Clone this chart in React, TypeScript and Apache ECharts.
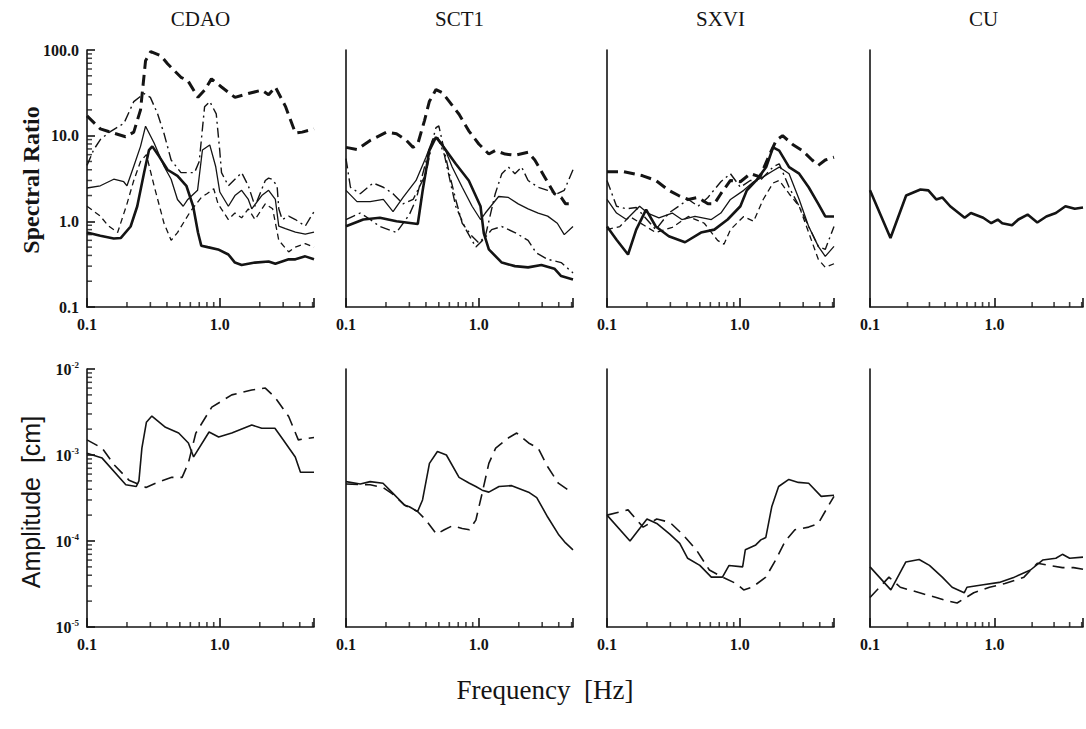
import React, { useEffect, useRef } from "react";
import * as echarts from "echarts";

// ---------- categories / labels ----------
const stations = ["CDAO", "SCT1", "SXVI", "CU"];
const topYLabel = "Spectral Ratio";
const bottomYLabel = "Amplitude  [cm]";
const xLabel = "Frequency  [Hz]";
const xMinorTicks = [0.2, 0.3, 0.4, 0.5, 0.6, 0.7, 0.8, 0.9, 2, 3, 4, 5];
const minorMultipliers = [2, 3, 4, 5, 6, 7, 8, 9];
const topDecades = [0.1, 1, 10];
const bottomDecades = [1e-5, 1e-4, 1e-3];

// ---------- spectral ratios (top row) ----------
const cdaoHeavyDash = [[0.1,17],[0.126,12],[0.159,10.7],[0.195,9.7],[0.225,11],[0.253,20],[0.276,75],[0.302,96],[0.359,86],[0.404,69],[0.51,48],[0.574,44],[0.685,28],[0.768,34],[0.865,46],[1.03,37],[1.3,28],[1.64,31],[2.07,34],[2.33,30],[2.62,37],[3.12,22],[3.71,10.7],[4.17,11],[5.12,12]];
const cdaoThin = [[0.1,2.45],[0.126,2.6],[0.159,3.1],[0.189,2.9],[0.2,2.6],[0.225,4.4],[0.253,7.5],[0.276,12.9],[0.32,8.2],[0.38,4.4],[0.43,3.1],[0.48,1.8],[0.53,1.5],[0.574,1.8],[0.68,2.3],[0.74,6.8],[0.84,7.8],[0.93,4.4],[1.0,2.2],[1.16,1.5],[1.3,2],[1.46,2.3],[1.64,1.8],[1.74,1.4],[2.07,2],[2.33,2.3],[2.62,1.8],[2.78,0.88],[3.12,0.82],[3.71,0.75],[4.4,0.71],[5.12,0.75]];
const cdaoThick = [[0.1,0.74],[0.126,0.68],[0.159,0.63],[0.18,0.64],[0.213,0.87],[0.239,1.5],[0.269,3.7],[0.293,6.8],[0.31,7.5],[0.35,5.7],[0.404,4],[0.48,3.4],[0.56,2.6],[0.63,1.5],[0.685,0.74],[0.725,0.52],[0.81,0.5],[0.97,0.47],[1.16,0.41],[1.3,0.33],[1.46,0.31],[1.84,0.33],[2.33,0.34],[2.62,0.32],[3.3,0.36],[3.71,0.36],[4.4,0.39],[5.12,0.36]];
const cdaoDashDot = [[0.1,4.5],[0.112,6.8],[0.126,9],[0.144,10.7],[0.19,14],[0.225,25],[0.269,31],[0.3,28],[0.34,18],[0.38,10.6],[0.43,5.2],[0.51,3.7],[0.645,3.7],[0.7,5],[0.768,21.7],[0.84,25],[0.94,18],[0.998,6.8],[1.03,3.7],[1.16,2.6],[1.3,3.1],[1.46,3.7],[1.64,2.6],[1.84,1.5],[2.2,3],[2.33,3.2],[2.47,3.1],[2.7,2.6],[2.78,1.4],[2.95,1.05],[3.3,1.15],[3.71,1.05],[4.4,0.88],[5.12,1.3]];
const cdaoDashed = [[0.1,1.5],[0.126,1.15],[0.144,0.89],[0.17,0.74],[0.2,1.6],[0.225,3],[0.253,5],[0.28,6],[0.32,2.6],[0.38,0.95],[0.43,0.6],[0.48,0.74],[0.53,0.95],[0.6,1.3],[0.725,1.9],[0.8,2.1],[0.9,2.4],[0.97,1.6],[1.16,1.05],[1.3,1.25],[1.46,1.1],[1.64,1.4],[1.84,1.05],[2.2,1.6],[2.5,1.4],[2.78,0.6],[3.3,0.44],[3.71,0.5],[4.4,0.55],[5.12,0.5]];

const sct1HeavyDash = [[0.1,7.3],[0.121,6.9],[0.152,8.8],[0.202,11],[0.24,10.5],[0.285,8.8],[0.32,7.3],[0.347,8],[0.39,15],[0.424,25],[0.476,34.5],[0.533,31.6],[0.6,25],[0.71,17.8],[0.84,11.4],[1.0,8],[1.19,6.1],[1.33,6.7],[1.58,6.1],[1.87,5.9],[2.35,6.4],[2.64,5.2],[3.13,3.3],[3.71,2.1],[4.17,1.9],[4.5,1.6],[5.12,1.6]];
const sct1Thin = [[0.1,2.3],[0.121,1.7],[0.152,1.7],[0.191,1.8],[0.226,1.3],[0.269,1.9],[0.337,3],[0.4,5.6],[0.45,9.1],[0.49,9.5],[0.55,7.3],[0.63,4.3],[0.75,2.5],[0.89,1.5],[1.03,1.05],[1.12,1.25],[1.41,1.95],[1.67,1.9],[1.98,1.6],[2.35,1.4],[2.8,1.25],[3.3,1.15],[3.9,0.95],[4.4,0.7],[5.12,0.87]];
const sct1Thick = [[0.1,0.875],[0.135,1.05],[0.18,1.1],[0.24,1.0],[0.347,0.93],[0.378,2.3],[0.424,6.7],[0.476,9.6],[0.533,7.7],[0.67,4.7],[0.84,3],[1.03,1.5],[1.09,0.73],[1.19,0.47],[1.49,0.33],[1.87,0.3],[2.35,0.29],[2.96,0.31],[3.71,0.28],[4.17,0.23],[5.12,0.21]];
const sct1DashDot = [[0.1,5.4],[0.108,2.5],[0.128,2.1],[0.16,2.8],[0.191,2.5],[0.226,2.1],[0.269,1.6],[0.32,1.8],[0.4,3.6],[0.45,9],[0.476,12.4],[0.5,13],[0.55,6.7],[0.6,3.6],[0.67,1.8],[0.75,0.95],[0.89,0.67],[1.0,0.56],[1.12,0.67],[1.33,2.1],[1.49,3.6],[1.67,4.3],[1.87,3.6],[2.1,4.3],[2.35,3.0],[2.8,2.5],[3.3,2.3],[3.9,2.1],[4.4,2.3],[5.12,4]];
const sct1Dashed = [[0.1,1.05],[0.128,1.25],[0.152,1.05],[0.18,0.87],[0.24,0.74],[0.3,1.2],[0.337,1.8],[0.4,5],[0.45,9],[0.49,9.5],[0.55,6],[0.67,1.5],[0.8,0.8],[0.95,0.5],[1.07,0.6],[1.25,0.8],[1.49,0.87],[1.87,0.74],[2.35,0.6],[2.7,0.43],[3.3,0.36],[4.17,0.33],[5.12,0.25]];

const sxviHeavyDash = [[0.1,3.8],[0.133,3.8],[0.186,3.4],[0.233,3.0],[0.292,2.3],[0.346,2.0],[0.41,1.8],[0.485,1.9],[0.575,1.6],[0.643,1.6],[0.72,2.1],[0.85,3.0],[1.01,2.9],[1.2,3.6],[1.42,3.3],[1.68,6.1],[1.88,8.8],[2.1,10],[2.5,7.9],[2.96,6.7],[3.5,5.2],[3.9,4.5],[4.4,5.2],[5.12,5.6]];
const sxviThin = [[0.1,1.8],[0.118,1.25],[0.14,1.05],[0.176,1.5],[0.202,1.25],[0.246,1.1],[0.31,1.25],[0.366,1.05],[0.46,1.14],[0.61,1.05],[0.72,1.25],[0.85,1.8],[1.07,2.3],[1.27,2.9],[1.5,3.3],[1.78,3.9],[1.98,4.3],[2.35,3.6],[2.8,1.8],[3.3,0.87],[3.9,0.51],[4.4,0.39],[5.12,0.51]];
const sxviThick = [[0.1,0.87],[0.118,0.61],[0.144,0.41],[0.166,0.8],[0.197,1.37],[0.233,0.87],[0.292,0.67],[0.387,0.57],[0.51,0.74],[0.643,0.8],[0.81,1.05],[1.01,1.5],[1.13,2.3],[1.33,3.0],[1.58,4.3],[1.78,7.3],[1.98,6.7],[2.35,4.3],[2.8,3.6],[3.3,2.5],[3.9,1.6],[4.4,1.14],[5.12,1.14]];
const sxviDashDot = [[0.1,3.0],[0.118,1.5],[0.14,1.4],[0.166,1.45],[0.233,0.8],[0.292,1.25],[0.41,1.8],[0.485,1.5],[0.575,1.9],[0.72,2.9],[0.85,3.6],[1.01,2.5],[1.2,3.0],[1.42,3.0],[1.78,4.3],[1.98,4.7],[2.35,2.5],[2.8,1.5],[3.3,0.87],[3.9,0.51],[4.4,0.47],[5.12,0.87]];
const sxviDashed = [[0.1,0.8],[0.125,0.87],[0.148,1.14],[0.19,0.9],[0.233,0.74],[0.31,0.85],[0.41,1.14],[0.54,0.95],[0.68,0.6],[0.76,0.54],[0.85,0.8],[1.07,1.14],[1.27,1.0],[1.5,1.8],[1.78,2.8],[1.98,3.0],[2.35,2.1],[2.8,1.5],[3.3,0.74],[3.9,0.36],[4.4,0.29],[5.12,0.32]];

const cuRatio = [[0.1,2.3],[0.146,0.64],[0.195,2.0],[0.254,2.35],[0.294,2.3],[0.34,1.8],[0.38,1.9],[0.44,1.5],[0.575,1.1],[0.645,1.25],[0.81,1.1],[0.94,0.95],[1.06,1.05],[1.15,0.95],[1.38,0.9],[1.55,1.05],[1.84,1.2],[2.2,0.97],[2.6,1.14],[3.1,1.25],[3.7,1.5],[4.4,1.4],[5.12,1.45]];

// ---------- amplitudes [cm] (bottom row) ----------
const cdaoAmpSolid = [[0.1,1.05e-3],[0.13,9.2e-4],[0.196,4.5e-4],[0.235,4.3e-4],[0.246,5e-4],[0.259,1.2e-3],[0.28,2.4e-3],[0.308,2.84e-3],[0.39,2.1e-3],[0.49,1.8e-3],[0.58,1.38e-3],[0.635,9.5e-4],[0.83,1.85e-3],[0.98,1.62e-3],[1.23,1.8e-3],[1.74,2.23e-3],[2.07,2.05e-3],[2.6,2.05e-3],[2.9,1.62e-3],[3.7,9.5e-4],[4.05,6.3e-4],[5.12,6.3e-4]];
const cdaoAmpDashed = [[0.1,1.5e-3],[0.13,1.2e-3],[0.16,7.7e-4],[0.207,5.1e-4],[0.278,4.2e-4],[0.35,4.9e-4],[0.435,5.5e-4],[0.52,5.5e-4],[0.58,8.1e-4],[0.66,1.8e-3],[0.87,3.6e-3],[1.23,5e-3],[1.74,5.7e-3],[2.2,6e-3],[2.6,4.7e-3],[3.3,2.8e-3],[3.9,1.5e-3],[5.12,1.6e-3]];
const sct1AmpSolid = [[0.1,4.9e-4],[0.128,4.6e-4],[0.152,4.9e-4],[0.19,4.7e-4],[0.225,3.6e-4],[0.277,2.6e-4],[0.3,2.5e-4],[0.346,2.2e-4],[0.377,3.0e-4],[0.425,8e-4],[0.488,1.1e-3],[0.57,1.0e-3],[0.71,5.5e-4],[0.85,4.7e-4],[0.95,4.3e-4],[1.06,3.9e-4],[1.19,3.7e-4],[1.42,4.3e-4],[1.77,4.4e-4],[2.37,3.7e-4],[2.73,3.2e-4],[3.3,1.9e-4],[3.97,1.2e-4],[4.5,9.5e-5],[5.12,7.9e-5]];
const sct1AmpDashed = [[0.1,4.6e-4],[0.152,4.5e-4],[0.19,4.2e-4],[0.225,3.5e-4],[0.277,2.6e-4],[0.346,2.2e-4],[0.4,1.75e-4],[0.48,1.2e-4],[0.55,1.35e-4],[0.63,1.5e-4],[0.75,1.4e-4],[0.85,1.35e-4],[0.95,1.75e-4],[1.06,3.6e-4],[1.19,8e-4],[1.34,1.2e-3],[1.69,1.6e-3],[1.93,1.8e-3],[2.37,1.38e-3],[2.8,1.2e-3],[3.3,7.3e-4],[3.97,4.7e-4],[5.12,3.6e-4]];
const sxviAmpSolid = [[0.1,2.0e-4],[0.149,1.0e-4],[0.2,1.8e-4],[0.237,1.6e-4],[0.297,1.2e-4],[0.353,9.4e-5],[0.405,6.3e-5],[0.5,5.2e-5],[0.61,3.8e-5],[0.74,3.8e-5],[0.83,5.2e-5],[1.05,5e-5],[1.1,7.9e-5],[1.32,9e-5],[1.44,1.03e-4],[1.57,1.1e-4],[1.74,2.5e-4],[1.96,4.3e-4],[2.34,5.2e-4],[2.76,4.8e-4],[3.3,4.7e-4],[4.1,3.3e-4],[5.12,3.4e-4]];
const sxviAmpDashed = [[0.1,2.0e-4],[0.144,2.3e-4],[0.187,1.45e-4],[0.237,1.8e-4],[0.297,1.65e-4],[0.37,1.2e-4],[0.47,7.9e-5],[0.59,4.6e-5],[0.74,3.8e-5],[0.94,3.2e-5],[1.07,2.7e-5],[1.24,2.9e-5],[1.57,3.8e-5],[1.86,6e-5],[2.2,1.0e-4],[2.6,1.35e-4],[3.3,1.45e-4],[3.9,1.6e-4],[4.6,2.5e-4],[5.12,3.3e-4]];
const cuAmpSolid = [[0.1,5.0e-5],[0.147,2.7e-5],[0.194,5.7e-5],[0.248,6.1e-5],[0.3,5.2e-5],[0.38,3.8e-5],[0.456,2.9e-5],[0.57,2.5e-5],[0.6,2.9e-5],[0.81,3.1e-5],[1.09,3.3e-5],[1.44,3.8e-5],[1.94,4.6e-5],[2.43,6e-5],[3.1,6.3e-5],[3.5,7e-5],[4.0,6.3e-5],[5.12,6.5e-5]];
const cuAmpDashed = [[0.1,2.2e-5],[0.142,3.8e-5],[0.175,2.9e-5],[0.25,2.5e-5],[0.34,2.2e-5],[0.425,2.0e-5],[0.5,1.9e-5],[0.68,2.5e-5],[0.91,2.9e-5],[1.21,3.2e-5],[1.72,3.8e-5],[2.2,5.5e-5],[2.75,5.2e-5],[3.5,4.9e-5],[4.3,4.9e-5],[5.12,4.7e-5]];

// ---------- layout & styles ----------
const INK = "#141414";
const colLeft = [87, 346, 607, 870];
const colWidth = 227;
const rowTop = [50, 369];
const rowHeight = [257, 258];
const xMin = 0.1;
const xMax = 5.12;
const yRange = [[0.1, 100], [1e-5, 1e-2]];

const styles: Record<string, any> = {
  heavyDash: { width: 3, type: [11, 6] },
  thin: { width: 1.3, type: "solid" },
  thick: { width: 2.6, type: "solid" },
  dashDot: { width: 1.4, type: [10, 4, 2, 4] },
  dashed: { width: 1.3, type: [6, 4] },
  ampSolid: { width: 1.6, type: "solid" },
  ampDashed: { width: 1.6, type: [12, 7] },
};

const topPanels: [string, number[][]][][] = [
  [["heavyDash", cdaoHeavyDash], ["thin", cdaoThin], ["thick", cdaoThick], ["dashDot", cdaoDashDot], ["dashed", cdaoDashed]],
  [["heavyDash", sct1HeavyDash], ["thin", sct1Thin], ["thick", sct1Thick], ["dashDot", sct1DashDot], ["dashDot", sct1Dashed]],
  [["heavyDash", sxviHeavyDash], ["thin", sxviThin], ["thick", sxviThick], ["dashDot", sxviDashDot], ["dashed", sxviDashed]],
  [["thick", cuRatio]],
];
const bottomPanels: [string, number[][]][][] = [
  [["ampSolid", cdaoAmpSolid], ["ampDashed", cdaoAmpDashed]],
  [["ampSolid", sct1AmpSolid], ["ampDashed", sct1AmpDashed]],
  [["ampSolid", sxviAmpSolid], ["ampDashed", sxviAmpDashed]],
  [["ampSolid", cuAmpSolid], ["ampDashed", cuAmpDashed]],
];

const SERIF = "'Liberation Serif', 'DejaVu Serif', serif";
const SANS = "'Liberation Sans', 'DejaVu Sans', sans-serif";

function decadeOf(v: number): number | null {
  const l = Math.log10(v);
  const r = Math.round(l);
  return Math.abs(l - r) < 0.01 ? r : null;
}

function buildOption() {
  const grid: any[] = [];
  const xAxis: any[] = [];
  const yAxis: any[] = [];
  const series: any[] = [];

  for (let r = 0; r < 2; r++) {
    for (let c = 0; c < 4; c++) {
      const idx = r * 4 + c;
      grid.push({ left: colLeft[c], top: rowTop[r], width: colWidth, height: rowHeight[r] });
      xAxis.push({
        type: "log",
        gridIndex: idx,
        min: xMin,
        max: xMax,
        axisLine: { show: true, lineStyle: { color: INK, width: 1.6 } },
        axisTick: { show: true, inside: true, length: 9, lineStyle: { color: INK, width: 1.6 } },
        axisLabel: {
          show: true,
          margin: 9,
          color: INK,
          fontFamily: SERIF,
          fontWeight: "bold",
          fontSize: 16,
          formatter: (v: number) => {
            const e = decadeOf(v);
            if (e === -1) return "0.1";
            if (e === 0) return "1.0";
            return "";
          },
        },
        splitLine: { show: false },
      });
      yAxis.push({
        type: "log",
        gridIndex: idx,
        min: yRange[r][0],
        max: yRange[r][1],
        axisLine: { show: true, lineStyle: { color: INK, width: 1.6 } },
        axisTick: { show: c === 0, inside: true, length: 8, lineStyle: { color: INK, width: 1.6 } },
        axisLabel: {
          show: c === 0,
          margin: 8,
          color: INK,
          fontFamily: SERIF,
          fontWeight: "bold",
          fontSize: 16,
          formatter: (v: number) => {
            const e = decadeOf(v);
            if (e === null) return "";
            if (r === 0) {
              const map: Record<number, string> = { [-1]: "0.1", 0: "1.0", 1: "10.0", 2: "100.0" };
              return map[e] ?? "";
            }
            return `{b|10}{s|${e}}`;
          },
          rich: {
            b: { fontFamily: SERIF, fontWeight: "bold", fontSize: 16, lineHeight: 18, color: INK },
            s: { fontFamily: SERIF, fontWeight: "bold", fontSize: 9, lineHeight: 18, verticalAlign: "top", color: INK, padding: [0, 0, 9, 0] },
          },
        },
        splitLine: { show: false },
      });

      const panel = r === 0 ? topPanels[c] : bottomPanels[c];
      panel.forEach(([styleKey, data]) => {
        const st = styles[styleKey];
        series.push({
          type: "line",
          xAxisIndex: idx,
          yAxisIndex: idx,
          data,
          showSymbol: false,
          symbol: "none",
          silent: true,
          lineStyle: { color: INK, width: st.width, type: st.type },
        });
      });

      // minor x ticks (2..9 per decade)
      series.push({
        type: "scatter",
        xAxisIndex: idx,
        yAxisIndex: idx,
        silent: true,
        clip: false,
        symbol: "rect",
        symbolSize: [1.6, 5],
        symbolOffset: [0, -2.5],
        itemStyle: { color: INK },
        data: xMinorTicks.map((f) => [f, yRange[r][0]]),
      });
      // minor y ticks on the first column
      if (c === 0) {
        const decs = r === 0 ? topDecades : bottomDecades;
        const yt: number[][] = [];
        decs.forEach((d) => minorMultipliers.forEach((m) => yt.push([xMin, d * m])));
        series.push({
          type: "scatter",
          xAxisIndex: idx,
          yAxisIndex: idx,
          silent: true,
          clip: false,
          symbol: "rect",
          symbolSize: [5, 1.5],
          symbolOffset: [2.5, 0],
          itemStyle: { color: INK },
          data: yt,
        });
      }
    }
  }

  const graphic: any[] = [];
  stations.forEach((s, c) => {
    graphic.push({
      type: "text",
      x: colLeft[c] + colWidth / 2,
      y: 19,
      style: { text: s, font: `21px ${SERIF}`, fill: INK, align: "center", verticalAlign: "middle" },
    });
  });
  graphic.push({
    type: "text", x: 31, y: 180, rotation: Math.PI / 2,
    style: { text: topYLabel, font: `bold 24px ${SERIF}`, fill: INK, align: "center", verticalAlign: "middle" },
  });
  graphic.push({
    type: "text", x: 31, y: 502, rotation: Math.PI / 2,
    style: { text: bottomYLabel, font: `25px ${SANS}`, fill: INK, align: "center", verticalAlign: "middle" },
  });
  graphic.push({
    type: "text", x: 545, y: 690,
    style: { text: xLabel, font: `27px ${SERIF}`, fill: INK, align: "center", verticalAlign: "middle" },
  });

  return { animation: false, backgroundColor: "#ffffff", grid, xAxis, yAxis, series, graphic };
}

export default function App() {
  const ref = useRef<HTMLDivElement>(null);
  useEffect(() => {
    if (!ref.current) return;
    const chart = echarts.init(ref.current, null, { renderer: "svg" });
    chart.setOption(buildOption() as any);
    return () => chart.dispose();
  }, []);
  return (
    <div ref={ref} style={{ position: "absolute", left: 0, top: 0, width: 1086, height: 729, background: "#fff" }} />
  );
}
